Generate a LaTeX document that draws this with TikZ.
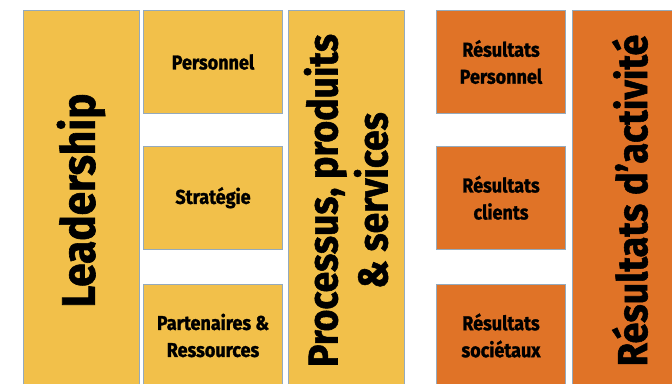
\documentclass[tikz,border=0pt]{standalone}
\usepackage{fontspec}
\setmainfont{Fira Sans}[FakeStretch=0.9, BoldFeatures={FakeBold=1.3}]
\definecolor{enablerfill}{HTML}{F2C04A}
\definecolor{resultfill}{HTML}{E07327}
\definecolor{cellline}{HTML}{94AABD}

\tikzset{
  cell/.style={draw=cellline, line width=0.8pt, inner sep=0pt, align=center},
  smallcell/.style={cell, font=\bfseries\fontsize{20}{27}\selectfont},
  tallcell/.style={cell, rotate=90, minimum width=380pt, minimum height=116pt,
    font=\bfseries\fontsize{43}{50}\selectfont},
  enabler/.style={smallcell, fill=enablerfill, minimum width=138.5pt, minimum height=103pt},
  result/.style={smallcell, fill=resultfill, minimum width=129pt, minimum height=103pt},
}

\begin{document}
\begin{tikzpicture}[x=1pt, y=-1pt]
  \useasboundingbox (0,0) rectangle (672,383);
  \clip (0,0) rectangle (672,383);

  % Leadership
  \node[tallcell, fill=enablerfill, font=\bfseries\fontsize{47}{50}\selectfont]
    (lead) at (81,200.5) {Leadership};

  % Enablers
  \foreach \name/\ypos/\txt in {pers/62/Personnel, strat/197.75/Strat\'egie,
    part/335.5/{Partenaires \&\\Ressources}}
  {
    \node[enabler] (\name) at (213,\ypos) {\txt};
  }

  % Processes
  \node[tallcell, fill=enablerfill, font=\bfseries\fontsize{41.5}{50}\selectfont]
    (proc) at (346,200.5) {Processus, produits\\\& services};

  % Results
  \foreach \name/\ypos/\txt in {rpers/62/{R\'esultats\\Personnel},
    rclients/197.75/{R\'esultats\\clients}, rsoc/335.5/{R\'esultats\\soci\'etaux}}
  {
    \node[result] (\name) at (501,\ypos) {\txt};
  }

  % Key results
  \node[tallcell, fill=resultfill, font=\bfseries\fontsize{42}{50}\selectfont]
    (act) at (630,200.5) {R\'esultats d'activit\'e};
\end{tikzpicture}
\end{document}
